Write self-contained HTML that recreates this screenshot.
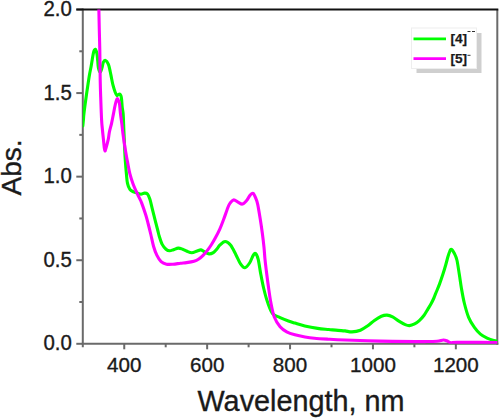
<!DOCTYPE html>
<html><head><meta charset="utf-8"><style>
html,body{margin:0;padding:0;background:#fff;}
body{width:500px;height:419px;overflow:hidden;}
svg{display:block;font-family:"Liberation Sans",sans-serif;}
</style></head><body>
<svg width="500" height="419" viewBox="0 0 500 419">
<rect width="500" height="419" fill="#fff"/>
<defs><clipPath id="pc"><rect x="82.8" y="9.5" width="414.5" height="334.3"/></clipPath></defs>
<g stroke="#6a6a6a" stroke-width="2" fill="none">
<line x1="82.8" y1="8.5" x2="82.8" y2="347.3"/>
<line x1="81.8" y1="343.8" x2="498.3" y2="343.8"/>
<line x1="497.3" y1="9.5" x2="497.3" y2="344.8"/>
<line x1="124.25" y1="343.8" x2="124.25" y2="349.3" /><line x1="165.70" y1="343.8" x2="165.70" y2="347.3" /><line x1="207.15" y1="343.8" x2="207.15" y2="349.3" /><line x1="248.60" y1="343.8" x2="248.60" y2="347.3" /><line x1="290.05" y1="343.8" x2="290.05" y2="349.3" /><line x1="331.50" y1="343.8" x2="331.50" y2="347.3" /><line x1="372.95" y1="343.8" x2="372.95" y2="349.3" /><line x1="414.40" y1="343.8" x2="414.40" y2="347.3" /><line x1="455.85" y1="343.8" x2="455.85" y2="349.3" /><line x1="76.30" y1="343.80" x2="82.8" y2="343.80" /><line x1="79.30" y1="302.01" x2="82.8" y2="302.01" /><line x1="76.30" y1="260.23" x2="82.8" y2="260.23" /><line x1="79.30" y1="218.44" x2="82.8" y2="218.44" /><line x1="76.30" y1="176.65" x2="82.8" y2="176.65" /><line x1="79.30" y1="134.86" x2="82.8" y2="134.86" /><line x1="76.30" y1="93.07" x2="82.8" y2="93.07" /><line x1="79.30" y1="51.29" x2="82.8" y2="51.29" /><line x1="76.30" y1="9.50" x2="82.8" y2="9.50" />
</g>
<line x1="76.3" y1="9.5" x2="498.3" y2="9.5" stroke="#111" stroke-width="2"/>
<g clip-path="url(#pc)" fill="none" stroke-width="3.1" stroke-linejoin="round" stroke-linecap="round">
<path d="M82.80,126.00 C82.90,125.00 83.20,122.17 83.40,120.00 C83.60,117.83 83.58,116.55 84.00,113.00 C84.42,109.45 85.23,103.48 85.90,98.70 C86.57,93.92 87.37,88.48 88.00,84.30 C88.63,80.12 89.18,76.57 89.70,73.60 C90.22,70.63 90.67,68.88 91.10,66.50 C91.53,64.12 91.88,61.68 92.30,59.30 C92.72,56.92 93.10,53.87 93.60,52.20 C94.10,50.53 94.75,49.07 95.30,49.30 C95.85,49.53 96.50,51.70 96.90,53.60 C97.30,55.50 97.45,58.32 97.70,60.70 C97.95,63.08 97.98,65.98 98.40,67.90 C98.82,69.82 99.60,72.20 100.20,72.20 C100.80,72.20 101.48,69.55 102.00,67.90 C102.52,66.25 102.73,63.55 103.30,62.30 C103.87,61.05 104.55,60.07 105.40,60.40 C106.25,60.73 107.60,62.45 108.40,64.30 C109.20,66.15 109.68,69.22 110.20,71.50 C110.72,73.78 111.03,75.72 111.50,78.00 C111.97,80.28 112.38,82.82 113.00,85.20 C113.62,87.58 114.55,90.58 115.20,92.30 C115.85,94.02 116.37,95.12 116.90,95.50 C117.43,95.88 117.92,94.83 118.40,94.60 C118.88,94.37 119.37,93.87 119.80,94.10 C120.23,94.33 120.70,95.10 121.00,96.00 C121.30,96.90 121.38,97.50 121.60,99.50 C121.82,101.50 122.03,105.53 122.30,108.00 C122.57,110.47 122.95,110.85 123.20,114.30 C123.45,117.75 123.62,124.42 123.80,128.70 C123.98,132.98 124.15,136.45 124.30,140.00 C124.45,143.55 124.52,146.35 124.70,150.00 C124.88,153.65 125.12,157.92 125.40,161.90 C125.68,165.88 126.05,170.32 126.40,173.90 C126.75,177.48 126.92,180.82 127.50,183.40 C128.08,185.98 128.90,188.00 129.90,189.40 C130.90,190.80 132.20,191.17 133.50,191.80 C134.80,192.43 136.45,192.80 137.70,193.20 C138.95,193.60 139.87,194.22 141.00,194.20 C142.13,194.18 143.42,193.13 144.50,193.10 C145.58,193.07 146.60,192.97 147.50,194.00 C148.40,195.03 149.10,196.82 149.90,199.30 C150.70,201.78 151.40,205.32 152.30,208.90 C153.20,212.48 154.38,217.20 155.30,220.80 C156.22,224.40 157.15,227.97 157.80,230.50 C158.45,233.03 158.47,233.68 159.20,236.00 C159.93,238.32 161.07,242.20 162.20,244.40 C163.33,246.60 164.75,248.13 166.00,249.20 C167.25,250.27 168.45,250.72 169.70,250.80 C170.95,250.88 172.07,250.15 173.50,249.70 C174.93,249.25 176.78,248.18 178.30,248.10 C179.82,248.02 181.23,248.72 182.60,249.20 C183.97,249.68 184.97,250.40 186.50,251.00 C188.03,251.60 190.02,252.80 191.80,252.80 C193.58,252.80 195.67,251.48 197.20,251.00 C198.73,250.52 199.75,249.73 201.00,249.90 C202.25,250.07 203.37,251.33 204.70,252.00 C206.03,252.67 207.57,253.80 209.00,253.90 C210.43,254.00 211.95,253.45 213.30,252.60 C214.65,251.75 216.02,250.05 217.10,248.80 C218.18,247.55 218.47,246.32 219.80,245.10 C221.13,243.88 223.32,241.50 225.10,241.50 C226.88,241.50 228.70,242.90 230.50,245.10 C232.30,247.30 234.20,251.52 235.90,254.70 C237.60,257.88 239.22,262.02 240.70,264.20 C242.18,266.38 243.32,268.00 244.80,267.80 C246.28,267.60 248.20,265.08 249.60,263.00 C251.00,260.92 252.20,256.88 253.20,255.30 C254.20,253.72 254.77,252.83 255.60,253.50 C256.43,254.17 257.35,255.93 258.20,259.30 C259.05,262.67 259.80,268.92 260.70,273.70 C261.60,278.48 262.45,283.23 263.60,288.00 C264.75,292.77 266.12,298.07 267.60,302.30 C269.08,306.53 270.42,310.85 272.50,313.40 C274.58,315.95 277.45,316.33 280.10,317.60 C282.75,318.87 285.93,320.08 288.40,321.00 C290.87,321.92 292.17,322.27 294.90,323.10 C297.63,323.93 301.02,325.12 304.80,326.00 C308.58,326.88 313.60,327.82 317.60,328.40 C321.60,328.98 325.40,329.17 328.80,329.50 C332.20,329.83 335.30,330.17 338.00,330.40 C340.70,330.63 342.67,330.65 345.00,330.90 C347.33,331.15 349.43,332.02 352.00,331.90 C354.57,331.78 357.83,331.18 360.40,330.20 C362.97,329.22 365.07,327.63 367.40,326.00 C369.73,324.37 372.07,322.03 374.40,320.40 C376.73,318.77 379.30,317.08 381.40,316.20 C383.50,315.32 385.13,314.98 387.00,315.10 C388.87,315.22 390.62,315.90 392.60,316.90 C394.58,317.90 396.80,319.82 398.90,321.10 C401.00,322.38 403.45,323.85 405.20,324.60 C406.95,325.35 407.83,325.72 409.40,325.60 C410.97,325.48 412.95,324.73 414.60,323.90 C416.25,323.07 417.72,322.03 419.30,320.60 C420.88,319.17 422.67,317.22 424.10,315.30 C425.53,313.38 426.72,311.07 427.90,309.10 C429.08,307.13 430.20,305.35 431.20,303.50 C432.20,301.65 433.17,299.63 433.90,298.00 C434.63,296.37 434.67,296.02 435.60,293.70 C436.53,291.38 438.30,287.28 439.50,284.10 C440.70,280.92 441.77,277.78 442.80,274.60 C443.83,271.42 444.83,268.02 445.70,265.00 C446.57,261.98 447.32,258.78 448.00,256.50 C448.68,254.22 449.22,252.50 449.80,251.30 C450.38,250.10 450.73,248.93 451.50,249.30 C452.27,249.67 453.50,251.72 454.40,253.50 C455.30,255.28 456.08,256.53 456.90,260.00 C457.72,263.47 458.53,269.52 459.30,274.30 C460.07,279.08 460.67,283.92 461.50,288.70 C462.33,293.48 463.12,298.23 464.30,303.00 C465.48,307.77 466.92,313.23 468.60,317.30 C470.28,321.37 472.43,324.60 474.40,327.40 C476.37,330.20 478.28,332.32 480.40,334.10 C482.52,335.88 484.87,337.03 487.10,338.10 C489.33,339.17 491.98,340.02 493.80,340.50 C495.62,340.98 497.30,340.92 498.00,341.00" stroke="#00ff00"/>
<path d="M98.80,6.00 C98.88,10.00 99.13,22.67 99.30,30.00 C99.47,37.33 99.65,41.67 99.80,50.00 C99.95,58.33 100.03,71.67 100.20,80.00 C100.37,88.33 100.57,93.33 100.80,100.00 C101.03,106.67 101.33,115.08 101.60,120.00 C101.87,124.92 102.10,126.32 102.40,129.50 C102.70,132.68 103.10,136.18 103.40,139.10 C103.70,142.02 103.95,145.02 104.20,147.00 C104.45,148.98 104.60,150.83 104.90,151.00 C105.20,151.17 105.43,149.98 106.00,148.00 C106.57,146.02 107.73,141.77 108.30,139.10 C108.87,136.43 108.87,134.58 109.40,132.00 C109.93,129.42 110.83,126.58 111.50,123.60 C112.17,120.62 112.77,117.28 113.40,114.10 C114.03,110.92 114.67,107.08 115.30,104.50 C115.93,101.92 116.62,99.10 117.20,98.60 C117.78,98.10 118.40,100.52 118.80,101.50 C119.20,102.48 119.32,102.40 119.60,104.50 C119.88,106.60 120.13,110.92 120.50,114.10 C120.87,117.28 121.40,120.42 121.80,123.60 C122.20,126.78 122.48,129.97 122.90,133.20 C123.32,136.43 123.82,139.78 124.30,143.00 C124.78,146.22 125.27,149.35 125.80,152.50 C126.33,155.65 126.82,158.33 127.50,161.90 C128.18,165.47 129.00,170.32 129.90,173.90 C130.80,177.48 131.90,180.62 132.90,183.40 C133.90,186.18 134.85,188.22 135.90,190.60 C136.95,192.98 138.25,195.65 139.20,197.70 C140.15,199.75 140.52,200.05 141.60,202.90 C142.68,205.75 144.62,211.37 145.70,214.80 C146.78,218.23 147.27,220.30 148.10,223.50 C148.93,226.70 149.78,230.17 150.70,234.00 C151.62,237.83 152.58,242.98 153.60,246.50 C154.62,250.02 155.55,252.58 156.80,255.10 C158.05,257.62 159.48,260.08 161.10,261.60 C162.72,263.12 164.52,263.77 166.50,264.20 C168.48,264.63 170.67,264.37 173.00,264.20 C175.33,264.03 178.25,263.47 180.50,263.20 C182.75,262.93 184.25,262.93 186.50,262.60 C188.75,262.27 191.95,261.80 194.00,261.20 C196.05,260.60 197.28,259.98 198.80,259.00 C200.32,258.02 201.67,256.73 203.10,255.30 C204.53,253.87 206.00,252.20 207.40,250.40 C208.80,248.60 210.23,246.47 211.50,244.50 C212.77,242.53 213.62,241.17 215.00,238.60 C216.38,236.03 218.37,232.28 219.80,229.10 C221.23,225.92 222.40,222.68 223.60,219.50 C224.80,216.32 226.02,212.58 227.00,210.00 C227.98,207.42 228.42,205.68 229.50,204.00 C230.58,202.32 232.03,200.18 233.50,199.90 C234.97,199.62 236.82,201.60 238.30,202.30 C239.78,203.00 241.02,204.40 242.40,204.10 C243.78,203.80 245.30,202.00 246.60,200.50 C247.90,199.00 249.12,196.28 250.20,195.10 C251.28,193.92 252.15,192.82 253.10,193.40 C254.05,193.98 255.13,196.78 255.90,198.60 C256.67,200.42 256.98,200.95 257.70,204.30 C258.42,207.65 259.43,213.92 260.20,218.70 C260.97,223.48 261.67,228.23 262.30,233.00 C262.93,237.77 263.55,242.92 264.00,247.30 C264.45,251.68 264.55,254.90 265.00,259.30 C265.45,263.70 266.10,268.92 266.70,273.70 C267.30,278.48 267.92,283.23 268.60,288.00 C269.28,292.77 269.87,297.50 270.80,302.30 C271.73,307.10 272.65,312.72 274.20,316.80 C275.75,320.88 278.02,324.30 280.10,326.80 C282.18,329.30 284.23,330.47 286.70,331.80 C289.17,333.13 291.85,333.93 294.90,334.80 C297.95,335.67 301.75,336.42 305.00,337.00 C308.25,337.58 310.57,337.93 314.40,338.30 C318.23,338.67 322.90,338.92 328.00,339.20 C333.10,339.48 336.33,339.68 345.00,340.00 C353.67,340.32 368.33,340.83 380.00,341.10 C391.67,341.37 407.50,341.52 415.00,341.60 C422.50,341.68 421.33,341.67 425.00,341.60 C428.67,341.53 433.93,341.47 437.00,341.20 C440.07,340.93 441.80,340.07 443.40,340.00 C445.00,339.93 445.53,340.40 446.60,340.80 C447.67,341.20 448.87,342.07 449.80,342.40 C450.73,342.73 451.00,342.80 452.20,342.80 C453.40,342.80 449.20,342.45 457.00,342.40 C464.80,342.35 492.00,342.48 499.00,342.50" stroke="#ff00ff"/>
</g>
<g font-size="21.6" fill="#1a1a1a" stroke="#1a1a1a" stroke-width="0.35"><text transform="translate(124.25,371.6) scale(0.955,0.97)" text-anchor="middle">400</text><text transform="translate(207.15,371.6) scale(0.955,0.97)" text-anchor="middle">600</text><text transform="translate(290.05,371.6) scale(0.955,0.97)" text-anchor="middle">800</text><text transform="translate(372.95,371.6) scale(0.955,0.97)" text-anchor="middle">1000</text><text transform="translate(455.85,371.6) scale(0.955,0.97)" text-anchor="middle">1200</text><text transform="translate(71.8,350.30) scale(0.944,1)" text-anchor="end">0.0</text><text transform="translate(71.8,266.73) scale(0.944,1)" text-anchor="end">0.5</text><text transform="translate(71.8,183.15) scale(0.944,1)" text-anchor="end">1.0</text><text transform="translate(71.8,99.57) scale(0.944,1)" text-anchor="end">1.5</text><text transform="translate(71.8,16.00) scale(0.944,1)" text-anchor="end">2.0</text></g>
<text x="197.5" y="411.3" font-size="28.8" fill="#1a1a1a" stroke="#1a1a1a" stroke-width="0.35">Wavelength, nm</text>
<text transform="translate(21.3,195.5) rotate(-90)" font-size="28" fill="#1a1a1a" stroke="#1a1a1a" stroke-width="0.35">Abs.</text>
<!-- legend -->
<rect x="416.5" y="33" width="65" height="40" fill="#cfcfcf"/>
<rect x="411.5" y="28" width="65" height="40.5" fill="#fff" stroke="#eeeeee" stroke-width="1"/>
<line x1="413.5" y1="38.8" x2="446" y2="38.8" stroke="#00ff00" stroke-width="2.8"/>
<line x1="413.5" y1="58.7" x2="446" y2="58.7" stroke="#ff00ff" stroke-width="2.8"/>
<g font-size="13.6" font-weight="bold" fill="#1a1a1a" stroke="#1a1a1a" stroke-width="0.25">
<text x="450.4" y="43.3">[4]</text>
<text x="450.4" y="62.8">[5]</text>
</g>
<g stroke="#333" stroke-width="1">
<line x1="467.5" y1="31.5" x2="470.5" y2="31.5"/><line x1="472" y1="31.5" x2="475" y2="31.5"/>
<line x1="467.5" y1="55.3" x2="470.5" y2="55.3"/>
</g>
</svg>
</body></html>
